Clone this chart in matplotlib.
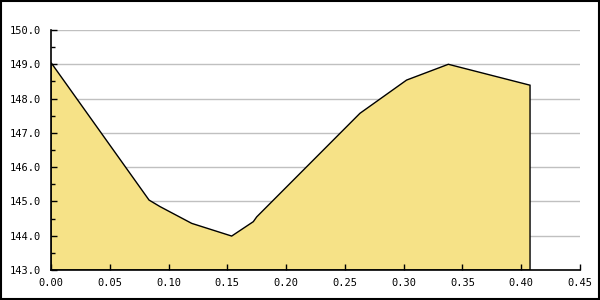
import matplotlib.pyplot as plt
import numpy as np
from matplotlib.patches import Rectangle

# data
xs = [0.0, 0.0834, 0.0927, 0.1197, 0.1537, 0.1721, 0.175, 0.2628, 0.3025, 0.338, 0.4075]
ys = [149.05, 145.04, 144.85, 144.36, 143.99, 144.41, 144.55, 147.57, 148.54, 149.0, 148.39]

y_min, y_max = 143.0, 150.0
x_min, x_max = 0.0, 0.45
x_ticks = np.arange(0, 0.451, 0.05)
y_ticks = np.arange(143, 150.01, 1.0)

fill_color = '#f6e287'
grid_color = '#c0c0c0'

fig = plt.figure(figsize=(6, 3), dpi=100)
ax = fig.add_axes([51 / 600, 30 / 300, 529 / 600, 240 / 300])
ax.set_axisbelow(False)

# horizontal grid behind the area
for yv in y_ticks[1:]:
    ax.axhline(yv, color=grid_color, lw=1, zorder=0)

# filled area, closed down to the baseline
poly_x = [xs[0]] + xs + [xs[-1]]
poly_y = [y_min] + ys + [y_min]
ax.fill(poly_x, poly_y, facecolor=fill_color, edgecolor='black', lw=1, zorder=2)

ax.set_xlim(x_min, x_max)
ax.set_ylim(y_min, y_max)
ax.set_xticks(x_ticks)
ax.set_xticklabels([f'{v:.2f}' for v in x_ticks])
ax.set_yticks(y_ticks)
ax.set_yticklabels([f'{v:.1f}' for v in y_ticks])
ax.set_yticks(np.arange(143.5, 150, 1.0), minor=True)

ax.spines['top'].set_visible(False)
ax.spines['right'].set_visible(False)
for s in ('left', 'bottom'):
    ax.spines[s].set_linewidth(1.2)
    ax.spines[s].set_zorder(3)

ax.tick_params(axis='both', which='major', direction='in', length=4, width=1,
               labelsize=7.5, colors='black')
ax.tick_params(axis='y', which='major', pad=7)
ax.tick_params(axis='x', which='major', pad=6)
ax.tick_params(axis='y', which='minor', direction='in', length=3, width=1)
for lbl in ax.get_xticklabels() + ax.get_yticklabels():
    lbl.set_family('DejaVu Sans Mono')

# border around the whole image
fig.patches.append(Rectangle((0.0015, 0.003), 0.997, 0.994, transform=fig.transFigure,
                             fill=False, edgecolor='black', lw=1.5))

plt.savefig('out.png', dpi=100)
